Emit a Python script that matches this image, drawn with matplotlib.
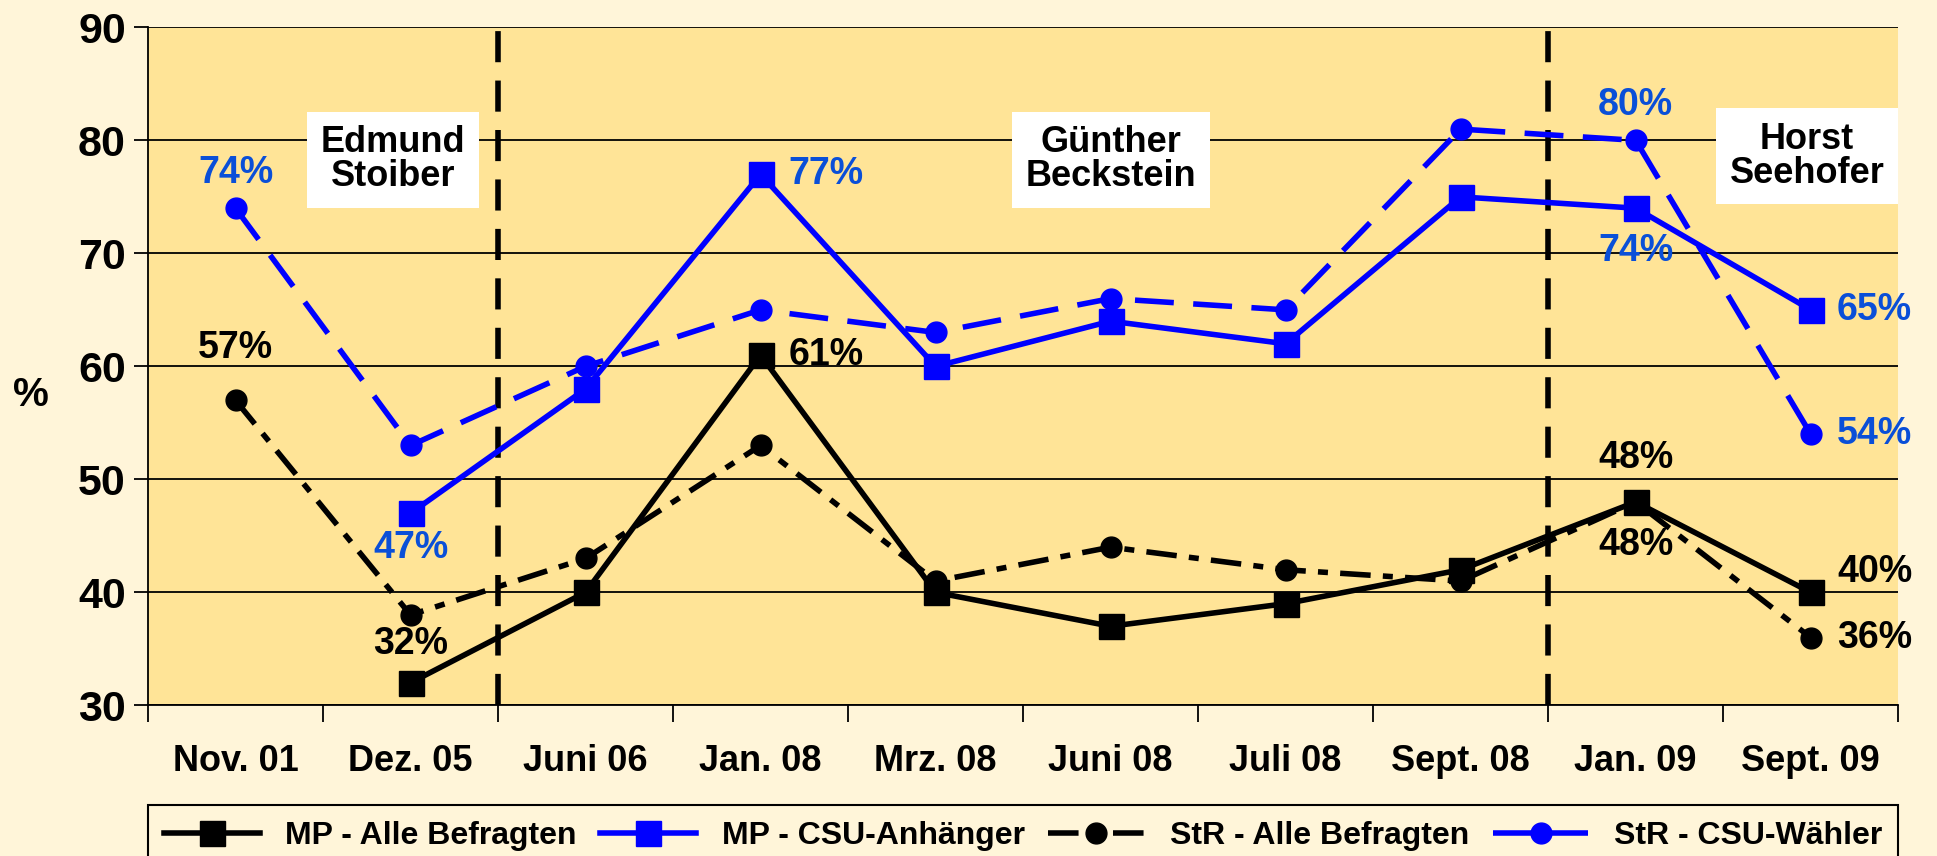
import matplotlib.pyplot as plt
import numpy as np

# data
months = ["Nov. 01", "Dez. 05", "Juni 06", "Jan. 08", "Mrz. 08",
          "Juni 08", "Juli 08", "Sept. 08", "Jan. 09", "Sept. 09"]
mp_alle = [np.nan, 32, 40, 61, 40, 37, 39, 42, 48, 40]
mp_csu = [np.nan, 47, 58, 77, 60, 64, 62, 75, 74, 65]
str_alle = [57, 38, 43, 53, 41, 44, 42, 41, 48, 36]
str_csu = [74, 53, 60, 65, 63, 66, 65, 81, 80, 54]
eras = ["Edmund\nStoiber", "Günther\nBeckstein", "Horst\nSeehofer"]

plt.rcParams["font.family"] = ["Liberation Sans", "DejaVu Sans"]
plt.rcParams["font.weight"] = "bold"

fig = plt.figure(figsize=(19.37, 8.56), dpi=100, facecolor="#FFF5D9")
ax = fig.add_axes([0.0764, 0.176, 0.9036, 0.792])
ax.set_facecolor("#FFE497")

x = np.arange(len(months))
BLUE = "#0000FF"
LBLUE = "#0A4FD8"
LW = 4

ax.plot(x, mp_alle, color="black", lw=LW, marker="s", ms=18, label="MP - Alle Befragten", zorder=5)
ax.plot(x, mp_csu, color=BLUE, lw=LW, marker="s", ms=18, label="MP - CSU-Anhänger", zorder=5)
ax.plot(x, str_alle, color="black", lw=LW, marker="o", ms=15, dashes=(5.5, 2.2, 1.8, 2.2),
        label="StR - Alle Befragten", zorder=4)
ax.plot(x, str_csu, color=BLUE, lw=LW, marker="o", ms=15, dashes=(7, 3.5),
        label="StR - CSU-Wähler", zorder=4)

for bx in [1.5, 7.5]:
    ax.axvline(bx, color="black", lw=4, dashes=(5.6, 3.3), zorder=3)

ax.set_xlim(-0.5, 9.5)
ax.set_ylim(30, 90)
ax.set_yticks(range(30, 91, 10))
ax.yaxis.grid(True, color="black", lw=1.3)
ax.set_axisbelow(True)
ax.set_xticks(x)
ax.set_xticklabels(months, fontsize=26, fontweight="bold")
ax.set_xticks(np.arange(-0.5, 10, 1), minor=True)
ax.tick_params(axis="x", which="major", length=0, pad=28)
ax.tick_params(axis="x", which="minor", length=12, width=1.3, direction="out")
ax.tick_params(axis="y", length=10, width=1.3, labelsize=31, pad=6)
for lab in ax.get_yticklabels():
    lab.set_fontweight("bold")
for s in ["top", "right"]:
    ax.spines[s].set_visible(False)
ax.spines["left"].set_linewidth(1.3)
ax.spines["bottom"].set_linewidth(1.3)
ax.set_ylabel("%", rotation=0, fontsize=29, fontweight="bold")
ax.yaxis.set_label_coords(-0.067, 0.43)

# value labels
kw = dict(fontsize=27, fontweight="bold", zorder=6)
ax.text(0, str_csu[0] + 1.5, "74%", color=LBLUE, ha="center", va="bottom", **kw)
ax.text(0, str_alle[0] + 3.0, "57%", color="black", ha="center", va="bottom", **kw)
ax.text(1, mp_csu[1] - 1.5, "47%", color=LBLUE, ha="center", va="top", **kw)
ax.text(1, mp_alle[1] + 1.8, "32%", color="black", ha="center", va="bottom", **kw)
ax.text(3.16, mp_csu[3], "77%", color=LBLUE, ha="left", va="center", **kw)
ax.text(3.16, mp_alle[3], "61%", color="black", ha="left", va="center", **kw)
ax.text(8, str_csu[8] + 1.5, "80%", color=LBLUE, ha="center", va="bottom", **kw)
ax.text(8, mp_csu[8] - 2.2, "74%", color=LBLUE, ha="center", va="top", **kw)
ax.text(8, mp_alle[8] + 2.3, "48%", color="black", ha="center", va="bottom", **kw)
ax.text(8, mp_alle[8] - 2.2, "48%", color="black", ha="center", va="top", **kw)
ax.text(9.15, mp_csu[9], "65%", color=LBLUE, ha="left", va="center", **kw)
ax.text(9.15, str_csu[9], "54%", color=LBLUE, ha="left", va="center", **kw)
ax.text(9.15, mp_alle[9] + 1.8, "40%", color="black", ha="left", va="center", **kw)
ax.text(9.15, str_alle[9], "36%", color="black", ha="left", va="center", **kw)

# era boxes
box = dict(facecolor="white", edgecolor="none", pad=10)
for ex, ey, name in zip([0.9, 5.0, 8.98], [78.3, 78.3, 78.6], eras):
    ax.text(ex, ey, name, ha="center", va="center", fontsize=26, fontweight="bold",
            linespacing=0.95, bbox=box, zorder=7)

leg = fig.legend(loc="upper left", bbox_to_anchor=(0.0764, 0.0596, 0.9036, 0),
                 mode="expand", ncol=4, fontsize=23, frameon=True, fancybox=False,
                 edgecolor="black", facecolor="#FFF5D9", framealpha=1,
                 handlelength=3.0, borderaxespad=0, columnspacing=1.0, borderpad=0.5)
leg.get_frame().set_linewidth(1.5)
for t in leg.get_texts():
    t.set_fontweight("bold")

fig.savefig("out.png", dpi=100, facecolor=fig.get_facecolor())
